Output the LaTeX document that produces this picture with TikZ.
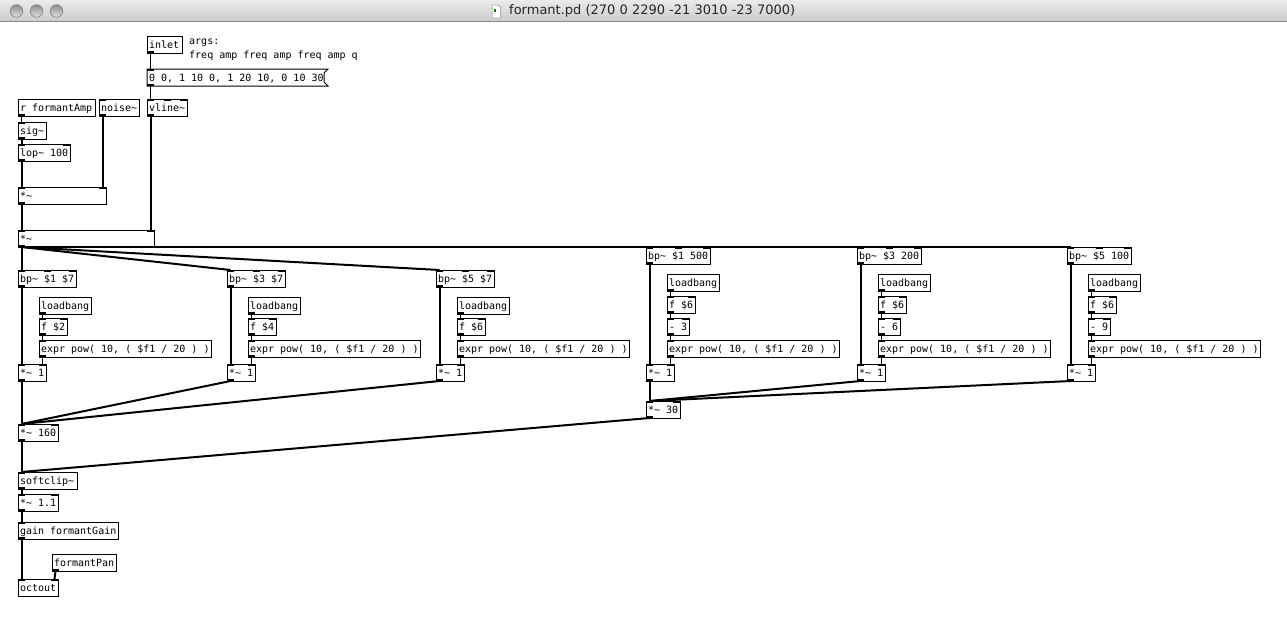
\documentclass[tikz,border=0pt]{standalone}
\usepackage{fontspec}
\newfontfamily\pdfont{DejaVu Sans Mono}
\newfontfamily\titlefont{DejaVu Sans}
\newcommand\tld{\char"7E\relax}
% inlets / outlets of a box: name, width, #inlets, #outlets
\newcommand\pdio[4]{%
  \ifnum#3>0\relax
    \foreach \k in {1,...,#3}{%
      \pgfmathsetmacro\ix{(#2-7)*(\k-1)/max(#3-1,1)}%
      \pgfmathsetmacro\ixc{\ix+3.5}%
      \fill ([xshift=\ix pt]#1.north west) rectangle ++(7,2);
      \coordinate (#1-i\k) at ([xshift=\ixc pt]#1.north west);
    }%
  \fi
  \ifnum#4>0\relax
    \foreach \k in {1,...,#4}{%
      \pgfmathsetmacro\ix{(#2-7)*(\k-1)/max(#4-1,1)}%
      \pgfmathsetmacro\ixc{\ix+3.5}%
      \fill ([xshift=\ix pt]#1.south west) rectangle ++(7,-2);
      \coordinate (#1-o\k) at ([xshift=\ixc pt]#1.south west);
    }%
  \fi
}
% object box: name, x, y, width, #inlets, #outlets, text
\newcommand\pdobj[7]{%
  \pgfmathsetmacro\pdtw{#4-4}%
  \node[pdbox] (#1) at (#2,#3) {\makebox[\pdtw pt][l]{#7}};
  \pdio{#1}{#4}{#5}{#6}%
}
\begin{document}
\begin{tikzpicture}[x=1pt,y=-1pt,
  pdbox/.style={draw,line width=1pt,anchor=north west,outer sep=0pt,
    inner xsep=2pt,inner ysep=0pt,minimum height=17pt,text height=11pt,
    text depth=3pt,font=\pdfont\fontsize{10}{12}\selectfont},
  pdcomment/.style={anchor=base west,inner sep=0pt,font=\pdfont\fontsize{10}{12}\selectfont},
  sigline/.style={line width=2pt},
  ctlline/.style={line width=1pt}]
\useasboundingbox (0,0) rectangle (1287,616);
\fill[white] (0,0) rectangle (1287,616);
% window title bar
\shade[top color=black!8,bottom color=black!20] (0,0) rectangle (1287,21);
\draw[black!45,line width=1pt] (0,21.5) -- (1287,21.5);
\foreach \cx in {16.5,36.5,56.5}{
  \shadedraw[top color=black!45,bottom color=black!12,draw=black!50,line width=0.6pt] (\cx,11) circle (6.3);
}
\filldraw[fill=white,draw=black!45,line width=0.5pt] (492,5) -- (498,5) -- (500.5,7.5) -- (500.5,18) -- (492,18) -- cycle;
\fill[green!50!black] (493.5,9) rectangle (496,12);
\node[font=\titlefont\fontsize{13}{15}\selectfont,text=black!85,anchor=west,inner sep=0pt] (title) at (509,11) {formant.pd (270 0 2290 -21 3010 -23 7000)};

% top section
\pdobj{inl}{147}{36}{35}{0}{1}{inlet}
\node[pdcomment] (args) at (189,44) {args:};
\node[pdcomment] (argl) at (189,58.5) {freq amp freq amp freq amp q};
\node[pdbox,draw=none] (msg) at (147,69) {\makebox[173pt][l]{0 0, 1 10 0, 1 20 10, 0 10 30}};
\draw[line width=1pt] (msg.north west) -- ([xshift=4pt]msg.north east) -- ([yshift=-4pt]msg.north east)
  -- ([yshift=4pt]msg.south east) -- ([xshift=4pt]msg.south east) -- (msg.south west) -- cycle;
\pdio{msg}{177}{1}{1}
\pdobj{rfa}{18}{99}{77}{0}{1}{r formantAmp}
\pdobj{noise}{99}{99}{40}{1}{1}{noise\tld}
\pdobj{vline}{147}{99}{40}{3}{1}{vline\tld}
\pdobj{sig}{18}{122}{28}{1}{1}{sig\tld}
\pdobj{lop}{18}{144}{52}{2}{1}{lop\tld{} 100}
\pdobj{mulA}{18}{187}{88}{2}{1}{*\tld}
\pdobj{mulB}{18}{230}{136}{2}{1}{*\tld}

% left three bands
\pdobj{bpA}{18}{270}{58}{3}{1}{bp\tld{} \$1 \$7}
\pdobj{lbA}{39}{297}{52}{0}{1}{loadbang}
\pdobj{fA}{39}{318}{28}{2}{1}{f \$2}
\pdobj{exA}{39}{340}{172}{1}{1}{expr pow( 10, ( \$f1 / 20 ) )}
\pdobj{mA}{18}{364}{28}{2}{1}{*\tld{} 1}

\pdobj{bpB}{227}{270}{58}{3}{1}{bp\tld{} \$3 \$7}
\pdobj{lbB}{248}{297}{52}{0}{1}{loadbang}
\pdobj{fB}{248}{318}{28}{2}{1}{f \$4}
\pdobj{exB}{248}{340}{172}{1}{1}{expr pow( 10, ( \$f1 / 20 ) )}
\pdobj{mB}{227}{364}{28}{2}{1}{*\tld{} 1}

\pdobj{bpC}{436}{270}{58}{3}{1}{bp\tld{} \$5 \$7}
\pdobj{lbC}{457}{297}{52}{0}{1}{loadbang}
\pdobj{fC}{457}{318}{28}{2}{1}{f \$6}
\pdobj{exC}{457}{340}{172}{1}{1}{expr pow( 10, ( \$f1 / 20 ) )}
\pdobj{mC}{436}{364}{28}{2}{1}{*\tld{} 1}

% right three bands
\pdobj{bpD}{646}{247}{64}{3}{1}{bp\tld{} \$1 500}
\pdobj{lbD}{667}{274}{52}{0}{1}{loadbang}
\pdobj{fD}{667}{296}{28}{2}{1}{f \$6}
\pdobj{sD}{667}{318}{22}{2}{1}{- 3}
\pdobj{exD}{667}{340}{172}{1}{1}{expr pow( 10, ( \$f1 / 20 ) )}
\pdobj{mD}{646}{364}{28}{2}{1}{*\tld{} 1}

\pdobj{bpE}{857}{247}{64}{3}{1}{bp\tld{} \$3 200}
\pdobj{lbE}{878}{274}{52}{0}{1}{loadbang}
\pdobj{fE}{878}{296}{28}{2}{1}{f \$6}
\pdobj{sE}{878}{318}{22}{2}{1}{- 6}
\pdobj{exE}{878}{340}{172}{1}{1}{expr pow( 10, ( \$f1 / 20 ) )}
\pdobj{mE}{857}{364}{28}{2}{1}{*\tld{} 1}

\pdobj{bpF}{1067}{247}{64}{3}{1}{bp\tld{} \$5 100}
\pdobj{lbF}{1088}{274}{52}{0}{1}{loadbang}
\pdobj{fF}{1088}{296}{28}{2}{1}{f \$6}
\pdobj{sF}{1088}{318}{22}{2}{1}{- 9}
\pdobj{exF}{1088}{340}{172}{1}{1}{expr pow( 10, ( \$f1 / 20 ) )}
\pdobj{mF}{1067}{364}{28}{2}{1}{*\tld{} 1}

% output section
\pdobj{mH}{18}{424}{40}{2}{1}{*\tld{} 160}
\pdobj{mT}{646}{401}{34}{2}{1}{*\tld{} 30}
\pdobj{soft}{18}{472}{59}{1}{1}{softclip\tld}
\pdobj{mG}{18}{494}{40}{2}{1}{*\tld{} 1.1}
\pdobj{gain}{18}{522}{100}{1}{1}{gain formantGain}
\pdobj{pan}{52}{554}{64}{0}{1}{formantPan}
\pdobj{oct}{18}{579}{40}{2}{0}{octout}

% control connections
\draw[ctlline] (inl-o1) -- (msg-i1);
\draw[ctlline] (msg-o1) -- (vline-i1);
\draw[ctlline] (rfa-o1) -- (sig-i1);
\foreach \g in {A,B,C}{
  \draw[ctlline] (lb\g-o1) -- (f\g-i1);
  \draw[ctlline] (f\g-o1) -- (ex\g-i1);
  \draw[ctlline] (ex\g-o1) -- (m\g-i2);
}
\foreach \g in {D,E,F}{
  \draw[ctlline] (lb\g-o1) -- (f\g-i1);
  \draw[ctlline] (f\g-o1) -- (s\g-i1);
  \draw[ctlline] (s\g-o1) -- (ex\g-i1);
  \draw[ctlline] (ex\g-o1) -- (m\g-i2);
}
% signal connections
\draw[sigline] (sig-o1) -- (lop-i1);
\draw[sigline] (lop-o1) -- (mulA-i1);
\draw[sigline] (noise-o1) -- (mulA-i2);
\draw[sigline] (mulA-o1) -- (mulB-i1);
\draw[sigline] (vline-o1) -- (mulB-i2);
\foreach \g in {A,B,C,D,E,F}{
  \draw[sigline] (mulB-o1) -- (bp\g-i1);
  \draw[sigline] (bp\g-o1) -- (m\g-i1);
}
\foreach \g in {A,B,C}{ \draw[sigline] (m\g-o1) -- (mH-i1); }
\foreach \g in {D,E,F}{ \draw[sigline] (m\g-o1) -- (mT-i1); }
\draw[sigline] (mH-o1) -- (soft-i1);
\draw[sigline] (mT-o1) -- (soft-i1);
\draw[sigline] (soft-o1) -- (mG-i1);
\draw[sigline] (mG-o1) -- (gain-i1);
\draw[sigline] (gain-o1) -- (oct-i1);
\draw[sigline] (pan-o1) -- (oct-i2);
\end{tikzpicture}
\end{document}
